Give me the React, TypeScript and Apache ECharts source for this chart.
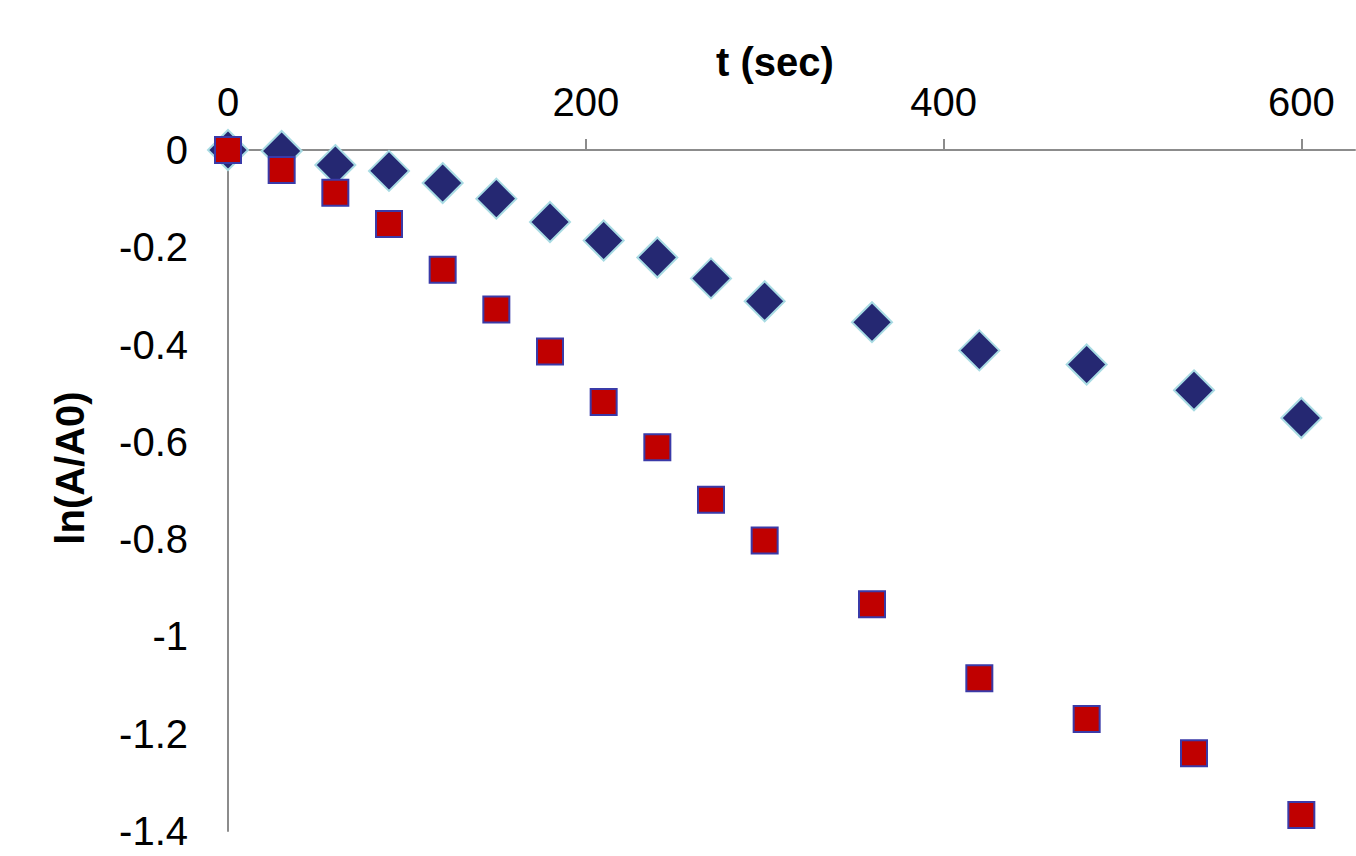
import React, { useEffect, useRef } from "react";
import * as echarts from "echarts";

const times = [0, 30, 60, 90, 120, 150, 180, 210, 240, 270, 300, 360, 420, 480, 540, 600];
const seriesA = [0, -0.002, -0.031, -0.043, -0.068, -0.1, -0.148, -0.186, -0.221, -0.264, -0.311, -0.354, -0.412, -0.441, -0.494, -0.551];
const seriesB = [0, -0.041, -0.088, -0.152, -0.246, -0.328, -0.414, -0.518, -0.611, -0.719, -0.803, -0.934, -1.086, -1.17, -1.24, -1.367];
const xTicks = [0, 200, 400, 600];
const xTitle = "t (sec)";
const yTitle = "ln(A/A0)";

export default function App() {
  const ref = useRef<HTMLDivElement>(null);
  useEffect(() => {
    if (!ref.current) return;
    const chart = echarts.init(ref.current, undefined, { renderer: "svg" });
    const font = "'Liberation Sans', Arial, sans-serif";
    chart.setOption({
      animation: false,
      backgroundColor: "#ffffff",
      grid: { left: 228, top: 150, width: 1127, height: 681, containLabel: false },
      xAxis: {
        type: "value",
        position: "top",
        min: 0,
        max: 630,
        interval: 200,
        splitLine: { show: false },
        axisLine: { show: true, onZero: false, lineStyle: { color: "#8c8c8c", width: 2 } },
        axisTick: { show: true, inside: false, length: 11, lineStyle: { color: "#8c8c8c", width: 2 }, customValues: xTicks },
        axisLabel: { color: "#000", fontSize: 40, fontFamily: font, margin: 28, customValues: xTicks },
      },
      yAxis: {
        type: "value",
        min: -1.4,
        max: 0,
        interval: 0.2,
        splitLine: { show: false },
        axisLine: { show: true, onZero: false, lineStyle: { color: "#8c8c8c", width: 2 } },
        axisTick: { show: false },
        axisLabel: {
          color: "#000",
          fontSize: 40,
          fontFamily: font,
          margin: 40,
          formatter: (v: number) => String(Math.round(v * 10) / 10),
        },
      },
      graphic: [
        {
          type: "text",
          x: 775,
          y: 62,
          style: { text: xTitle, font: `bold 40px ${font}`, fill: "#000", align: "center", verticalAlign: "middle" },
        },
        {
          type: "text",
          x: 70,
          y: 468,
          rotation: Math.PI / 2,
          style: { text: yTitle, font: `bold 40px ${font}`, fill: "#000", align: "center", verticalAlign: "middle" },
        },
      ],
      series: [
        {
          type: "scatter",
          symbol: "diamond",
          symbolSize: 40,
          data: times.map((t, i) => [t, seriesA[i]]),
          itemStyle: { color: "#252872", borderColor: "#a8dbe3", borderWidth: 2, opacity: 1 },
          z: 2,
        },
        {
          type: "scatter",
          symbol: "rect",
          symbolSize: 26,
          data: times.map((t, i) => [t, seriesB[i]]),
          itemStyle: { color: "#c00000", borderColor: "#3a3aa8", borderWidth: 2, opacity: 1 },
          z: 3,
        },
      ],
    });
    return () => chart.dispose();
  }, []);
  return <div ref={ref} style={{ position: "fixed", left: 0, top: 0, width: 1356, height: 856 }} />;
}
